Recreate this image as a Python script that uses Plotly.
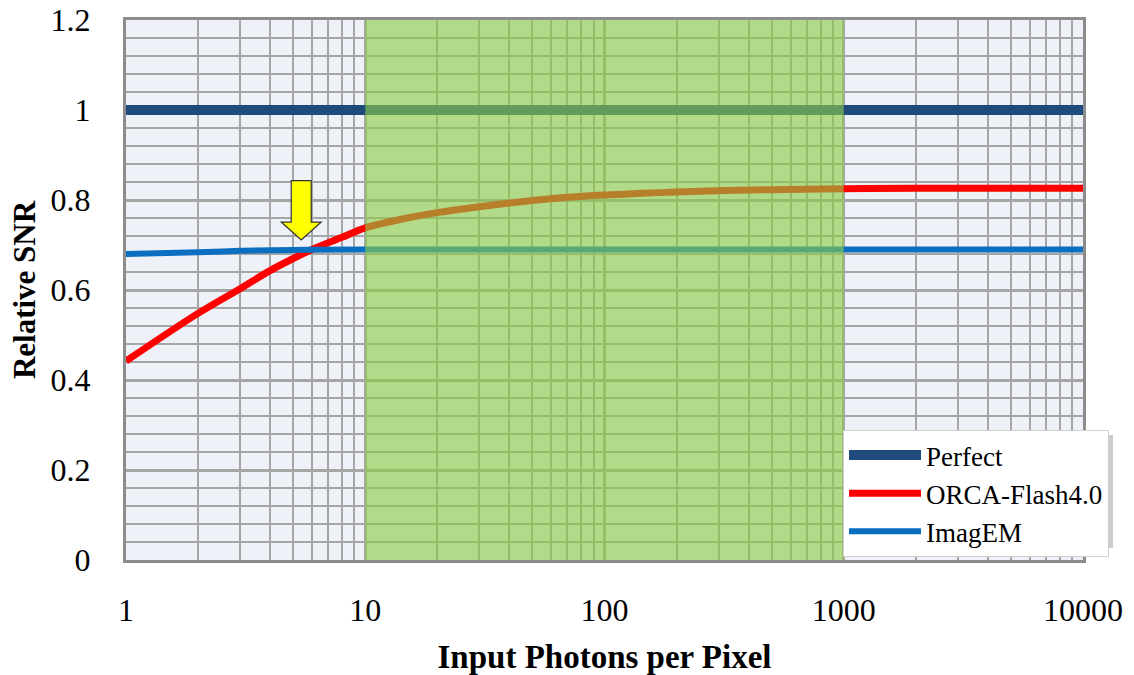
import math
import plotly.graph_objects as go

# ---- data ----
x_perfect = [1, 10, 100, 1000, 10000]
y_perfect = [1.0, 1.0, 1.0, 1.0, 1.0]

x_orca = [1, 2, 3, 4, 5, 6, 7, 8, 10, 15, 20, 30, 50, 70, 100, 200, 500, 1000, 2000, 5000, 10000]
y_orca = [0.442, 0.548, 0.603, 0.643, 0.670, 0.690, 0.705, 0.717, 0.738, 0.760, 0.772, 0.785,
          0.799, 0.806, 0.811, 0.818, 0.823, 0.825, 0.826, 0.826, 0.826]

x_imagem = [1, 2, 3, 5, 10, 100, 1000, 10000]
y_imagem = [0.680, 0.684, 0.687, 0.689, 0.690, 0.690, 0.690, 0.690]

x_tickvals = [1, 10, 100, 1000, 10000]
x_ticktext = ["1", "10", "100", "1000", "10000"]
y_tickvals = [0, 0.2, 0.4, 0.6, 0.8, 1.0, 1.2]
y_ticktext = ["0", "0.2", "0.4", "0.6", "0.8", "1", "1.2"]

shade_start, shade_end = 10, 1000
arrow_x, arrow_top, arrow_tip = 5.4, 0.843, 0.711

# ---- figure ----
W, H = 1134, 675
ML, MR, MT, MB = 126, 51, 20, 115
PW, PH = W - ML - MR, H - MT - MB

fig = go.Figure()
fig.add_trace(go.Scatter(x=x_perfect, y=y_perfect, mode="lines", name="Perfect",
                         line=dict(color="#1f4a7c", width=10)))
fig.add_trace(go.Scatter(x=x_orca, y=y_orca, mode="lines", name="ORCA-Flash4.0",
                         line=dict(color="#ff0000", width=7, shape="spline")))
fig.add_trace(go.Scatter(x=x_imagem, y=y_imagem, mode="lines", name="ImagEM",
                         line=dict(color="#0a6fc0", width=6, shape="spline")))

# green region
fig.add_shape(type="rect", xref="x", yref="paper",
              x0=shade_start, x1=shade_end, y0=0, y1=1,
              fillcolor="rgb(140,205,70)", opacity=0.62, line_width=0, layer="above")

# yellow block arrow
def px_x(v):
    return ML + math.log10(v) / 4 * PW
def px_y(v):
    return MT + (1.2 - v) / 1.2 * PH
cx = px_x(arrow_x)
ty = px_y(arrow_top)
tip = px_y(arrow_tip)
head_y = tip - 18
pts = [(cx - 10, ty), (cx + 10, ty), (cx + 10, head_y), (cx + 20, head_y), (cx, tip),
       (cx - 20, head_y), (cx - 10, head_y)]
path = "M " + " L ".join(f"{(px - ML) / PW:.5f},{1 - (py - MT) / PH:.5f}" for px, py in pts) + " Z"
fig.add_shape(type="path", xref="paper", yref="paper", path=path,
              fillcolor="#ffff00", line=dict(color="#333333", width=1.2), layer="above")

# legend shadow
lx0, lx1, ly0, ly1 = 843, 1108, 430, 543
fig.add_shape(type="rect", xref="paper", yref="paper",
              x0=(lx0 + 5 - ML) / PW, x1=(lx1 + 5 - ML) / PW,
              y0=1 - (ly1 + 5 - MT) / PH, y1=1 - (ly0 + 5 - MT) / PH,
              fillcolor="rgba(0,0,0,0.2)", line_width=0, layer="above")

serif = "Liberation Serif, Times New Roman, serif"
fig.update_layout(
    width=W, height=H,
    margin=dict(l=ML, r=MR, t=MT, b=MB, autoexpand=False),
    paper_bgcolor="white",
    plot_bgcolor="#eef2f8",
    font=dict(family=serif, size=28, color="black"),
    showlegend=True,
    legend=dict(x=(lx0 - ML) / PW, y=1 - (ly0 - MT) / PH, xanchor="left", yanchor="top",
                bgcolor="white", bordercolor="#d0d0d0", borderwidth=1,
                font=dict(family=serif, size=27), itemwidth=72, tracegroupgap=0),
    xaxis=dict(type="log", range=[0, 4], tickvals=x_tickvals, ticktext=x_ticktext,
               automargin=False,
               showgrid=True, gridcolor="#a6a6a6", gridwidth=3,
               minor=dict(dtick="D1", showgrid=True, gridcolor="#a6a6a6", gridwidth=2),
               ticks="outside", ticklen=20, tickcolor="rgba(0,0,0,0)",
               showline=True, linecolor="#8c8c8c", linewidth=3, mirror=True, zeroline=False,
               title=dict(text="<b>Input Photons per Pixel</b>", font=dict(size=33), standoff=18),
               tickfont=dict(size=32)),
    yaxis=dict(range=[0, 1.2], tickvals=y_tickvals, ticktext=y_ticktext,
               automargin=False,
               showgrid=True, gridcolor="#a6a6a6", gridwidth=2.5,
               minor=dict(dtick=0.04, showgrid=True, gridcolor="#a6a6a6", gridwidth=2),
               ticks="outside", ticklen=26, tickcolor="rgba(0,0,0,0)",
               showline=True, linecolor="#8c8c8c", linewidth=3, mirror=True, zeroline=False,
               title=dict(text="<b>Relative SNR</b>", font=dict(size=31), standoff=6),
               tickfont=dict(size=32)),
)

fig.write_html("out.html")
